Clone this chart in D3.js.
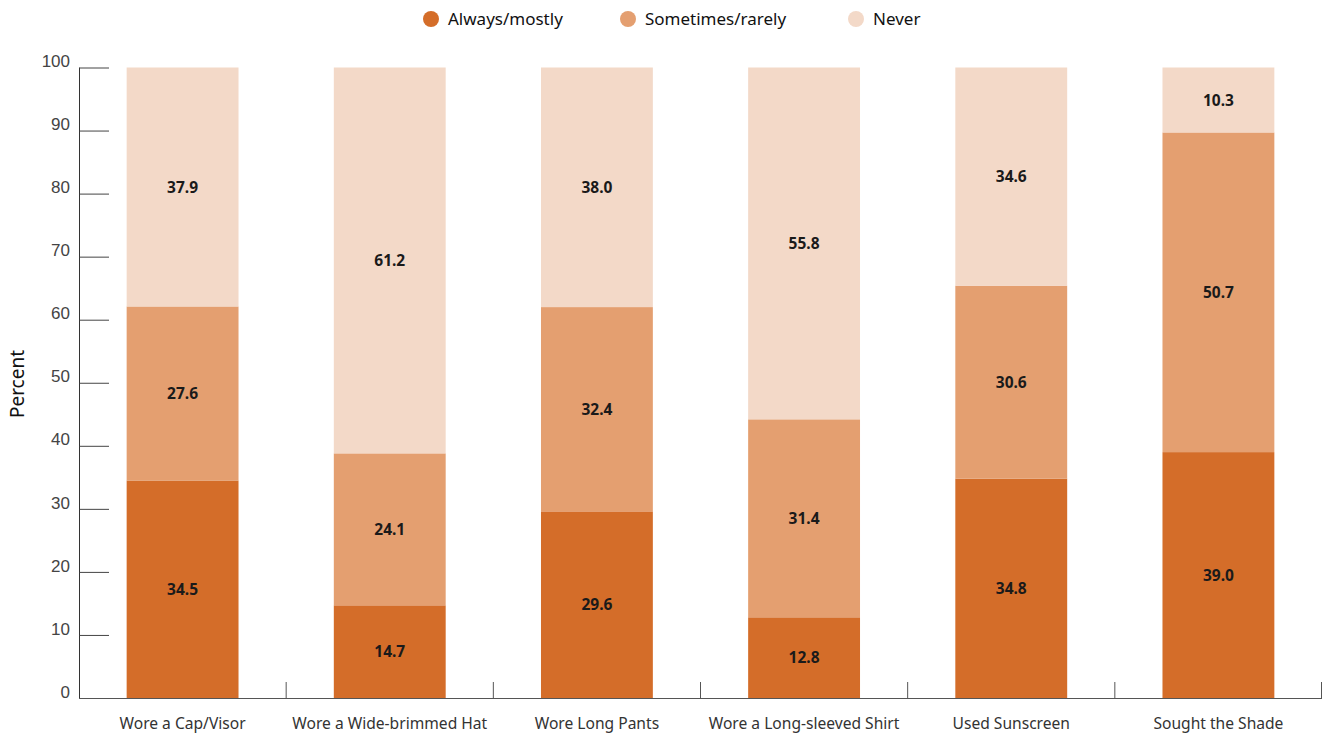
<!DOCTYPE html>
<html>
<head>
<meta charset="utf-8">
<script src="https://cdn.jsdelivr.net/npm/d3@7/dist/d3.min.js"></script>
<style>
  html, body { margin: 0; padding: 0; background: #fff; }
  svg { display: block; font-family: "Source Sans Pro", "Noto Sans", "Open Sans", sans-serif; }
</style>
</head>
<body>
<svg id="chart" width="1323" height="734"></svg>
<script>
// Sun-protection behaviours, share of respondents by frequency
const categories = ["Wore a Cap/Visor", "Wore a Wide-brimmed Hat", "Wore Long Pants",
                    "Wore a Long-sleeved Shirt", "Used Sunscreen", "Sought the Shade"];
const seriesNames = ["Always/mostly", "Sometimes/rarely", "Never"];
const always    = [34.5, 14.7, 29.6, 12.8, 34.8, 39.0];
const sometimes = [27.6, 24.1, 32.4, 31.4, 30.6, 50.7];
const never     = [37.9, 61.2, 38.0, 55.8, 34.6, 10.3];
const yTicks    = [0, 10, 20, 30, 40, 50, 60, 70, 80, 90, 100];
const colors    = ["#D46D29", "#E49F70", "#F3D9C8"];

const rows = categories.map((c, i) => ({
  category: c, "Always/mostly": always[i], "Sometimes/rarely": sometimes[i], "Never": never[i]
}));

const svg = d3.select("#chart");
const margin = { left: 79, right: 1, top: 67.5, bottom: 36 };
const W = 1323, H = 734;
const x0 = margin.left, x1 = W - margin.right;
const yTop = margin.top, yBot = 698;

const x = d3.scaleBand().domain(categories).range([x0, x1])
  .paddingInner(0.46).paddingOuter(0.23);
const y = d3.scaleLinear().domain([0, 100]).range([yBot, yTop]);
const color = d3.scaleOrdinal().domain(seriesNames).range(colors);

const stacked = d3.stack().keys(seriesNames)(rows);

// bars
const layers = svg.append("g").selectAll("g").data(stacked).join("g")
  .attr("fill", d => color(d.key));
layers.selectAll("rect").data(d => d).join("rect")
  .attr("x", d => x(d.data.category))
  .attr("width", x.bandwidth())
  .attr("y", d => y(d[1]))
  .attr("height", d => y(d[0]) - y(d[1]));

// value labels
layers.selectAll("text").data(d => d.map(v => ({ v, key: d.key }))).join("text")
  .attr("x", d => x(d.v.data.category) + x.bandwidth() / 2)
  .attr("y", d => y((d.v[0] + d.v[1]) / 2))
  .attr("dy", "0.36em")
  .attr("text-anchor", "middle")
  .attr("font-size", 15.5)
  .attr("font-weight", 700)
  .attr("fill", "#1a1a1a")
  .text(d => (d.v[1] - d.v[0]).toFixed(1));

// y axis
const yAxis = svg.append("g").attr("transform", `translate(${x0},0)`)
  .call(d3.axisRight(y).tickValues(yTicks).tickSize(30).tickFormat(d3.format("d")));
yAxis.select(".domain").attr("stroke", "#333").attr("d", `M0.5,${yTop}V${yBot}`);
yAxis.selectAll(".tick line").attr("stroke", "#444").attr("x1", 0.5);
yAxis.selectAll(".tick text")
  .attr("x", -9).attr("text-anchor", "end")
  .attr("font-size", 17).attr("fill", "#444").attr("dy", "-0.05em");

// x axis with boundary ticks
const xAxis = svg.append("g").attr("transform", `translate(0,${yBot})`);
xAxis.append("line").attr("x1", x0).attr("x2", x1).attr("y1", 0.5).attr("y2", 0.5)
  .attr("stroke", "#555");
const boundaries = categories.map(c => x(c) + x.bandwidth() + x.step() * 0.23);
xAxis.selectAll("line.b").data(boundaries).join("line").attr("class", "b")
  .attr("x1", d => Math.min(d, x1 - 0.5)).attr("x2", d => Math.min(d, x1 - 0.5))
  .attr("y1", -16).attr("y2", 0.5).attr("stroke", "#555");
xAxis.selectAll("text").data(categories).join("text")
  .attr("x", d => x(d) + x.bandwidth() / 2)
  .attr("y", 31)
  .attr("text-anchor", "middle")
  .attr("font-size", 15.6)
  .attr("fill", "#333")
  .text(d => d);

// y axis title
svg.append("text")
  .attr("transform", `translate(24,384) rotate(-90)`)
  .attr("text-anchor", "middle")
  .attr("font-size", 19)
  .attr("fill", "#111")
  .text("Percent");

// legend
const legendX = [431, 628, 856];
const legend = svg.append("g").selectAll("g").data(seriesNames).join("g")
  .attr("transform", (d, i) => `translate(${legendX[i]},19)`);
legend.append("circle").attr("r", 8).attr("fill", d => color(d));
legend.append("text").attr("x", 17).attr("dy", "0.35em")
  .attr("font-size", 17).attr("fill", "#111").text(d => d);
</script>
</body>
</html>
